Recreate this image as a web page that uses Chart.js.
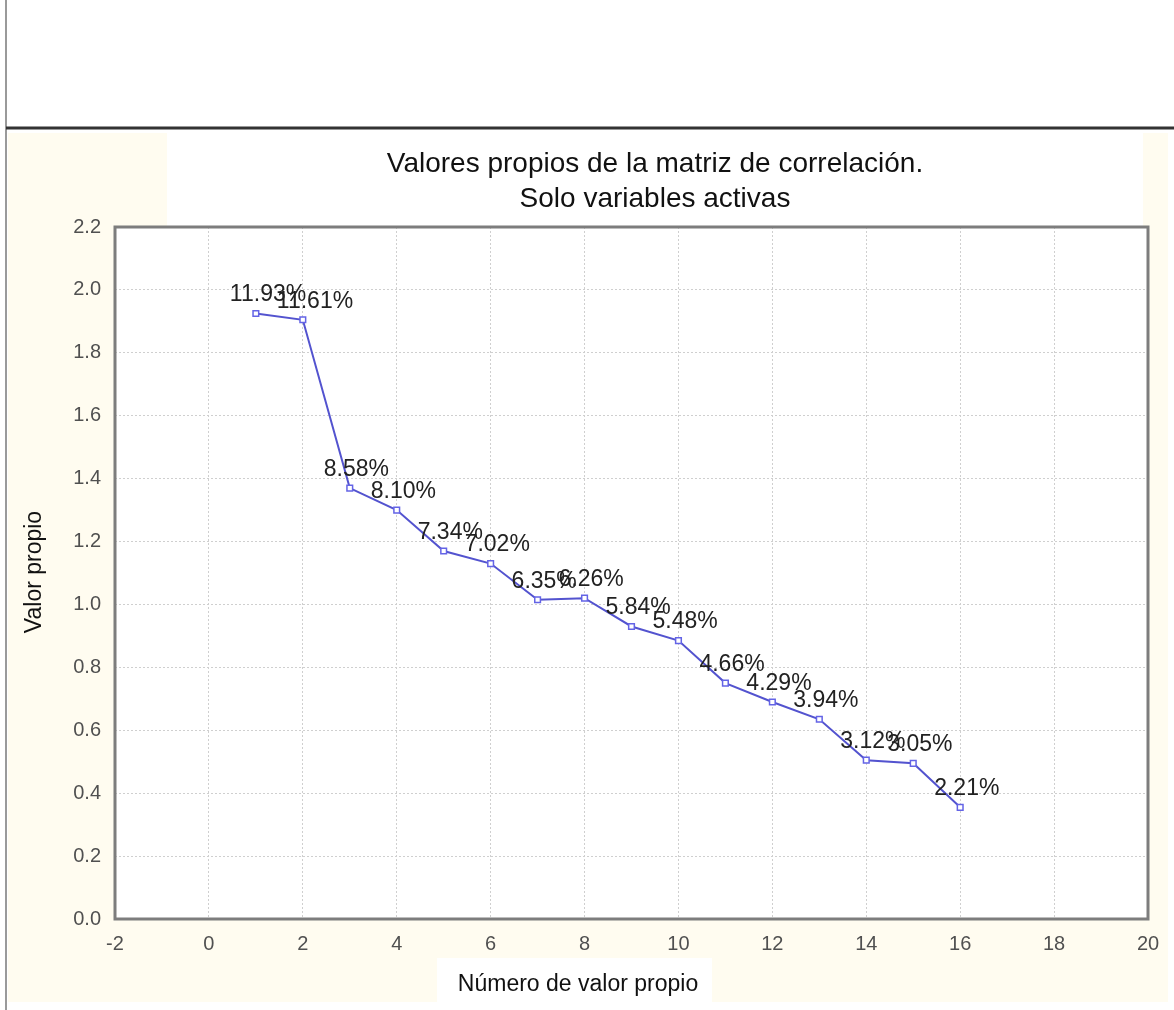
<!DOCTYPE html>
<html lang="es">
<head>
<meta charset="utf-8">
<title>Valores propios</title>
<script src="https://cdn.jsdelivr.net/npm/chart.js@4.4.1/dist/chart.umd.min.js"></script>
<style>
    html, body { margin: 0; padding: 0; background: #ffffff; }
    #wrap { position: relative; width: 1174px; height: 1010px; }
</style>
</head>
<body>
<div id="wrap"><canvas id="scree" width="1174" height="1010"></canvas></div>
<script>
// Eigenvalues of the correlation matrix, one per component
const componentes = [1, 2, 3, 4, 5, 6, 7, 8, 9, 10, 11, 12, 13, 14, 15, 16];
const valoresPropios = [1.925, 1.905, 1.37, 1.30, 1.17, 1.13, 1.015, 1.02, 0.93, 0.885, 0.75, 0.69, 0.635, 0.505, 0.495, 0.355];
const porcentajes = ['11.93%', '11.61%', '8.58%', '8.10%', '7.34%', '7.02%', '6.35%', '6.26%',
    '5.84%', '5.48%', '4.66%', '4.29%', '3.94%', '3.12%', '3.05%', '2.21%'];

const titulo = ['Valores propios de la matriz de correlación.', 'Solo variables activas'];
const tituloX = 'Número de valor propio';
const tituloY = 'Valor propio';

const FONT = '"Liberation Sans", Arial, sans-serif';

// Page background, cream panel, white boxes and the frame lines
const fondo = {
    id: 'fondo',
    beforeDraw: (chart) => {
        const { ctx, chartArea: a } = chart;
        ctx.save();
        ctx.fillStyle = '#ffffff';
        ctx.fillRect(0, 0, chart.width, chart.height);
        ctx.fillStyle = '#fffcf0';
        ctx.fillRect(8, 133, 1160, 869);
        ctx.fillStyle = '#ffffff';
        ctx.fillRect(167, 133, 976, a.top - 133);
        ctx.fillRect(437, 958, 275, 44);
        ctx.fillRect(a.left, a.top, a.right - a.left, a.bottom - a.top);

        ctx.strokeStyle = '#9a9a9a';
        ctx.lineWidth = 2;
        ctx.beginPath();
        ctx.moveTo(6, 0);
        ctx.lineTo(6, chart.height);
        ctx.stroke();

        ctx.strokeStyle = '#333333';
        ctx.lineWidth = 3;
        ctx.beginPath();
        ctx.moveTo(6, 128);
        ctx.lineTo(chart.width, 128);
        ctx.stroke();
        ctx.restore();
    },
    afterDraw: (chart) => {
        const { ctx, chartArea: a } = chart;
        ctx.save();
        ctx.strokeStyle = '#7d7d7d';
        ctx.lineWidth = 3;
        ctx.strokeRect(a.left, a.top, a.right - a.left, a.bottom - a.top);

        ctx.fillStyle = '#111111';
        ctx.textAlign = 'center';
        ctx.textBaseline = 'middle';
        ctx.font = '28px ' + FONT;
        ctx.fillText(titulo[0], 655, 164);
        ctx.fillText(titulo[1], 655, 199);

        ctx.font = '23px ' + FONT;
        ctx.fillText(tituloX, 578, 985);

        ctx.translate(35, 572);
        ctx.rotate(-Math.PI / 2);
        ctx.fillText(tituloY, 0, 0);
        ctx.restore();
    }
};

// Percentage labels next to each point
const etiquetas = {
    id: 'etiquetas',
    afterDatasetsDraw: (chart) => {
        const { ctx } = chart;
        const meta = chart.getDatasetMeta(0);
        ctx.save();
        ctx.fillStyle = '#222222';
        ctx.font = '23px ' + FONT;
        ctx.textAlign = 'left';
        ctx.textBaseline = 'bottom';
        meta.data.forEach((pt, i) => {
            ctx.fillText(porcentajes[i], pt.x - 26, pt.y - 7);
        });
        ctx.restore();
    }
};

const ctx = document.getElementById('scree').getContext('2d');

new Chart(ctx, {
    type: 'line',
    data: {
        datasets: [{
            data: componentes.map((c, i) => ({ x: c, y: valoresPropios[i] })),
            borderColor: '#5353cf',
            borderWidth: 2,
            pointStyle: 'rect',
            pointRadius: 4,
            pointBorderWidth: 1.5,
            pointBorderColor: '#6464e6',
            pointBackgroundColor: '#ffffff',
            tension: 0,
            fill: false
        }]
    },
    options: {
        responsive: false,
        animation: false,
        devicePixelRatio: 1,
        layout: {
            padding: { left: 0, top: 227, right: 26, bottom: 31 }
        },
        scales: {
            x: {
                type: 'linear',
                min: -2,
                max: 20,
                afterFit: (scale) => { scale.height = 60; },
                ticks: {
                    stepSize: 2,
                    padding: 13,
                    color: '#505050',
                    font: { family: FONT, size: 20 }
                },
                grid: {
                    color: '#cfcfcf',
                    lineWidth: 1,
                    drawTicks: false
                },
                border: { display: false, dash: [2, 2] }
            },
            y: {
                min: 0,
                max: 2.2,
                afterFit: (scale) => { scale.width = 115; },
                ticks: {
                    stepSize: 0.2,
                    padding: 14,
                    color: '#505050',
                    font: { family: FONT, size: 20 },
                    callback: (v) => v.toFixed(1)
                },
                grid: {
                    color: '#cfcfcf',
                    lineWidth: 1,
                    drawTicks: false
                },
                border: { display: false, dash: [2, 2] }
            }
        },
        plugins: {
            legend: { display: false },
            tooltip: { enabled: false }
        }
    },
    plugins: [fondo, etiquetas]
});
</script>
</body>
</html>
